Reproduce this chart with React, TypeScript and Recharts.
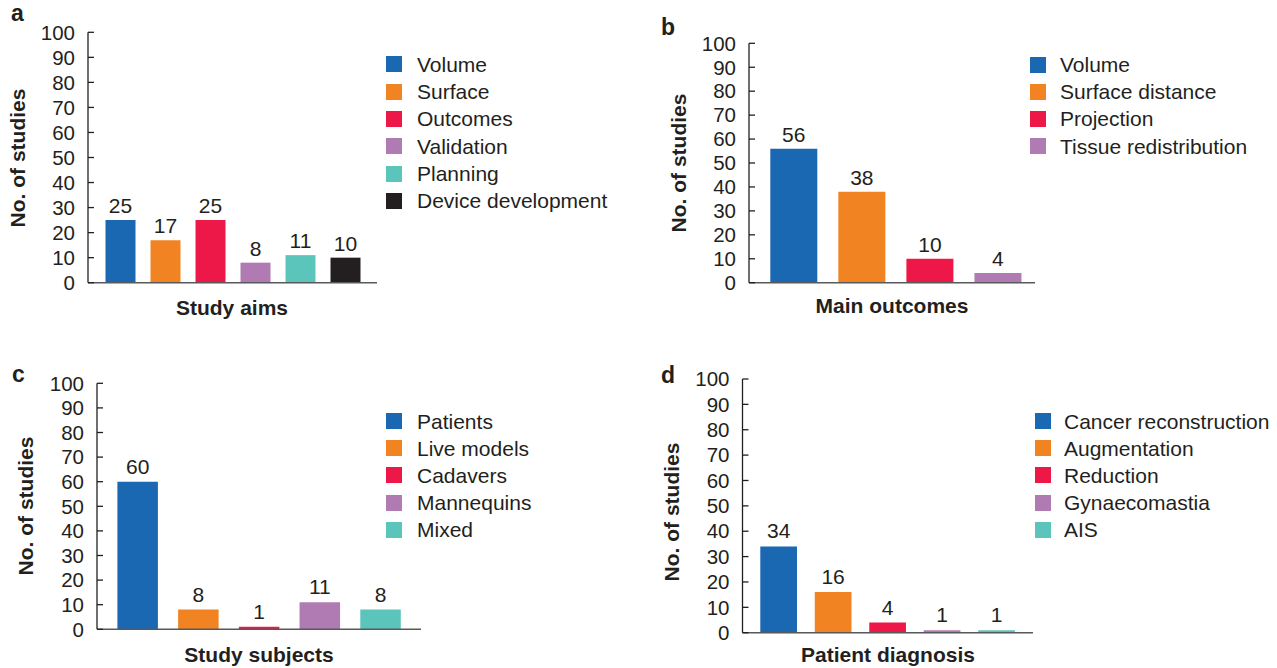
import { Bar, BarChart, Cell, Label, LabelList, Legend, XAxis, YAxis } from "recharts";

const BLUE = "#1a67b2";
const ORANGE = "#f28322";
const RED = "#ed1847";
const PURPLE = "#b07ab3";
const TEAL = "#5bc4bb";
const BLACK = "#231f20";
const INK = "#231f20";
const FONT = "'Liberation Sans', Arial, Helvetica, sans-serif";

const yTicks = [0, 10, 20, 30, 40, 50, 60, 70, 80, 90, 100];

const aimsNames = ["Volume", "Surface", "Outcomes", "Validation", "Planning", "Device development"];
const aimsValues = [25, 17, 25, 8, 11, 10];
const aimsColors = [BLUE, ORANGE, RED, PURPLE, TEAL, BLACK];

const outcomeNames = ["Volume", "Surface distance", "Projection", "Tissue redistribution"];
const outcomeValues = [56, 38, 10, 4];
const outcomeColors = [BLUE, ORANGE, RED, PURPLE];

const subjectNames = ["Patients", "Live models", "Cadavers", "Mannequins", "Mixed"];
const subjectValues = [60, 8, 1, 11, 8];
const subjectColors = [BLUE, ORANGE, RED, PURPLE, TEAL];

const diagnosisNames = ["Cancer reconstruction", "Augmentation", "Reduction", "Gynaecomastia", "AIS"];
const diagnosisValues = [34, 16, 4, 1, 1];
const diagnosisColors = [BLUE, ORANGE, RED, PURPLE, TEAL];

const W = 1277;
const H = 668;
const YW = 60;
const HX = 20;

interface Panel {
  letter: string;
  xTitle: string;
  names: string[];
  values: number[];
  colors: string[];
  axisX: number;
  axisEnd: number;
  top: number;
  bottom: number;
  padL: number;
  padR: number;
  barSize: number;
  labelOffset: number;
  letterX: number;
  letterY: number;
  yTitleX: number;
  yTitleY: number;
  xTitleX: number;
  xTitleY: number;
  legendX: number;
  legendY: number;
  legendRow: number;
  legendGap: number;
}

const panels: Panel[] = [
  {
    letter: "a", xTitle: "Study aims",
    names: aimsNames, values: aimsValues, colors: aimsColors,
    axisX: 88, axisEnd: 377, top: 32.3, bottom: 282.7, padL: 9.5, padR: 9.5, barSize: 30,
    labelOffset: 7,
    letterX: 11, letterY: 21, yTitleX: 25, yTitleY: 158, xTitleX: 232, xTitleY: 315,
    legendX: 386, legendY: 50.7, legendRow: 27.3, legendGap: 15,
  },
  {
    letter: "b", xTitle: "Main outcomes",
    names: outcomeNames, values: outcomeValues, colors: outcomeColors,
    axisX: 749, axisEnd: 1035, top: 43.3, bottom: 282.7, padL: 10.3, padR: 3.5, barSize: 47,
    labelOffset: 7,
    letterX: 661, letterY: 35, yTitleX: 686, yTitleY: 163, xTitleX: 892, xTitleY: 313,
    legendX: 1030, legendY: 51, legendRow: 27.2, legendGap: 14,
  },
  {
    letter: "c", xTitle: "Study subjects",
    names: subjectNames, values: subjectValues, colors: subjectColors,
    axisX: 97, axisEnd: 421, top: 383.3, bottom: 629.3, padL: 10.4, padR: 10, barSize: 40.5,
    labelOffset: 8,
    letterX: 12, letterY: 382, yTitleX: 32.5, yTitleY: 506, xTitleX: 259, xTitleY: 662,
    legendX: 386, legendY: 407.7, legendRow: 27.1, legendGap: 15,
  },
  {
    letter: "d", xTitle: "Patient diagnosis",
    names: diagnosisNames, values: diagnosisValues, colors: diagnosisColors,
    axisX: 742.5, axisEnd: 1033, top: 379, bottom: 632.7, padL: 8.8, padR: 9.3, barSize: 36.7,
    labelOffset: 8,
    letterX: 661, letterY: 383, yTitleX: 678.5, yTitleY: 512, xTitleX: 888, xTitleY: 662,
    legendX: 1035, legendY: 407.7, legendRow: 27.1, legendGap: 13,
  },
];

function PanelChart({ p }: { p: Panel }) {
  const rows = p.names.map((name, i) => ({ name, value: p.values[i] }));

  const legend = () => (
    <div style={{ fontFamily: FONT, fontSize: 21, color: INK }}>
      {p.names.map((n, i) => (
        <div key={n} style={{ display: "flex", alignItems: "center", height: p.legendRow, whiteSpace: "nowrap" }}>
          <span style={{ width: 16, height: 16, background: p.colors[i], marginRight: p.legendGap, flex: "none" }} />
          <span style={{ lineHeight: `${p.legendRow}px` }}>{n}</span>
        </div>
      ))}
    </div>
  );

  return (
    <div style={{ position: "absolute", left: 0, top: 0, width: W, height: H }}>
      <BarChart
        width={W}
        height={H}
        data={rows}
        margin={{ left: p.axisX - YW, right: W - p.axisEnd, top: p.top, bottom: H - p.bottom - HX }}
      >
        <XAxis
          dataKey="name"
          tick={false}
          tickLine={false}
          height={HX}
          padding={{ left: p.padL, right: p.padR }}
          axisLine={{ stroke: "#58595b", strokeWidth: 1.5 }}
        >
          <Label
            content={() => (
              <text x={p.xTitleX} y={p.xTitleY} textAnchor="middle" fontFamily={FONT} fontSize={21} fontWeight={700} fill={INK}>
                {p.xTitle}
              </text>
            )}
          />
        </XAxis>
        <YAxis
          width={YW}
          domain={[0, 100]}
          ticks={yTicks}
          interval={0}
          tickSize={-6}
          tickMargin={19}
          axisLine={{ stroke: INK, strokeWidth: 1.3 }}
          tickLine={{ stroke: INK, strokeWidth: 1.3 }}
          tick={{ fill: INK, fontSize: 20.5, fontFamily: FONT }}
        >
          <Label
            content={() => (
              <g fontFamily={FONT} fontWeight={700} fill={INK}>
                <text
                  x={p.yTitleX}
                  y={p.yTitleY}
                  transform={`rotate(-90 ${p.yTitleX} ${p.yTitleY})`}
                  textAnchor="middle"
                  fontSize={21}
                >
                  No. of studies
                </text>
                <text x={p.letterX} y={p.letterY} fontSize={23}>
                  {p.letter}
                </text>
              </g>
            )}
          />
        </YAxis>
        <Legend
          layout="vertical"
          align="center"
          verticalAlign="middle"
          content={legend}
          wrapperStyle={{ left: p.legendX, top: p.legendY, width: "auto" }}
        />
        <Bar dataKey="value" barSize={p.barSize} isAnimationActive={false}>
          {rows.map((r, i) => (
            <Cell key={r.name} fill={p.colors[i]} />
          ))}
          <LabelList dataKey="value" position="top" offset={p.labelOffset} fill={INK} fontSize={21} fontFamily={FONT} />
        </Bar>
      </BarChart>
    </div>
  );
}

export default function App() {
  return (
    <div style={{ position: "absolute", left: 0, top: 0, width: W, height: H, background: "#fff" }}>
      {panels.map((p) => (
        <PanelChart key={p.letter} p={p} />
      ))}
    </div>
  );
}
